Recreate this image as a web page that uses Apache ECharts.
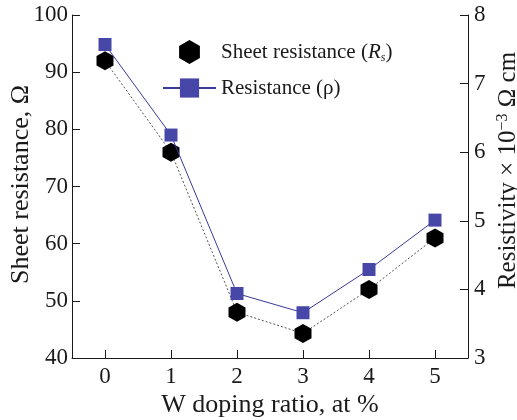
<!DOCTYPE html>
<html>
<head>
<meta charset="utf-8">
<script src="https://cdn.jsdelivr.net/npm/echarts@6/dist/echarts.min.js"></script>
<style>
  html, body { margin: 0; padding: 0; background: #fff; }
  #chart { width: 517px; height: 420px; }
</style>
</head>
<body>
<div id="chart"></div>
<script>
// W doping ratio (at %)
const dopingRatios = ['0', '1', '2', '3', '4', '5'];
// Sheet resistance Rs, Ω (left axis)
const sheetResistance = [92, 76, 48, 44.3, 52, 61];
// Resistivity ρ, ×10^-3 Ω cm (right axis)
const resistivity = [7.57, 6.25, 3.94, 3.66, 4.29, 5.01];
// Axis tick ranges
const leftTicks = { min: 40, max: 100, step: 10 };
const rightTicks = { min: 3, max: 8, step: 1 };

const FONT = '"Liberation Serif", "DejaVu Serif", serif';
const HEX = 'path://M0,-1 L0.866,-0.5 L0.866,0.5 L0,1 L-0.866,0.5 L-0.866,-0.5 Z';
const BLUE = '#4747a8';
const INK = '#1a1a1a';

const chart = echarts.init(document.getElementById('chart'), null, { renderer: 'canvas' });

const axisCommon = {
  axisLine: { show: true, lineStyle: { color: INK, width: 1 } },
  axisTick: { show: true, inside: true, length: 8, lineStyle: { color: INK } },
  splitLine: { show: false },
  nameMoveOverlap: false
};

chart.setOption({
  animation: false,
  backgroundColor: '#fff',
  grid: { left: 72, right: 49, top: 15, bottom: 62, containLabel: false, outerBoundsMode: 'none' },
  legend: {
    orient: 'vertical',
    left: 157,
    top: 35,
    padding: 5,
    itemWidth: 53,
    itemHeight: 24,
    itemGap: 12,
    textStyle: {
      fontFamily: FONT, fontSize: 21, color: INK, lineHeight: 24,
      rich: {
        a: { fontFamily: FONT, fontSize: 21, color: INK, lineHeight: 24 },
        i: { fontFamily: FONT, fontSize: 21, fontStyle: 'italic', color: INK, lineHeight: 24 },
        sub: { fontFamily: FONT, fontSize: 12, fontStyle: 'italic', color: INK, lineHeight: 24, verticalAlign: 'bottom', padding: [8, 0, 0, 0] }
      }
    },
    formatter: function (name) {
      if (name === 'Sheet resistance') return '{a|Sheet resistance (}{i|R}{sub|s}{a|)}';
      return '{a|Resistance (ρ)}';
    },
    data: [
      { name: 'Sheet resistance', icon: HEX },
      { name: 'Resistance' }
    ]
  },
  xAxis: Object.assign({}, axisCommon, {
    type: 'category',
    data: dopingRatios,
    boundaryGap: true,
    axisTick: { show: true, inside: true, length: 8, alignWithLabel: true, lineStyle: { color: INK } },
    axisLabel: { fontFamily: FONT, fontSize: 23, color: INK, margin: 7 },
    name: 'W doping ratio, at %',
    nameLocation: 'middle',
    nameGap: 34,
    nameTextStyle: { fontFamily: FONT, fontSize: 26, color: INK }
  }),
  yAxis: [
    Object.assign({}, axisCommon, {
      type: 'value',
      position: 'left',
      min: leftTicks.min, max: leftTicks.max, interval: leftTicks.step,
      axisLabel: { fontFamily: FONT, fontSize: 23, color: INK, margin: 4 },
      name: 'Sheet resistance, Ω',
      nameLocation: 'middle',
      nameRotate: 90,
      nameGap: 38,
      nameTextStyle: { fontFamily: FONT, fontSize: 26, color: INK, padding: [0, 0, 0, 4] }
    }),
    Object.assign({}, axisCommon, {
      type: 'value',
      position: 'right',
      min: rightTicks.min, max: rightTicks.max, interval: rightTicks.step,
      axisLabel: { fontFamily: FONT, fontSize: 23, color: INK, margin: 6 },
      name: '{a|Resistivity × 10}{sup|−3}{a| Ω cm}',
      nameLocation: 'middle',
      nameRotate: 90,
      nameGap: 27,
      nameTextStyle: {
        fontFamily: FONT, fontSize: 25, color: INK, padding: [0, 0, 0, 32],
        rich: {
          a: { fontFamily: FONT, fontSize: 25, color: INK },
          sup: { fontFamily: FONT, fontSize: 16, color: INK, verticalAlign: 'top', padding: [0, 0, 10, 0] }
        }
      }
    })
  ],
  series: [
    {
      name: 'Sheet resistance',
      type: 'line',
      yAxisIndex: 0,
      data: sheetResistance,
      symbol: HEX,
      symbolSize: [17, 19],
      itemStyle: { color: '#000' },
      lineStyle: { color: '#555', width: 1, type: [2, 2] },
      z: 2
    },
    {
      name: 'Resistance',
      type: 'line',
      yAxisIndex: 1,
      data: resistivity,
      symbol: 'rect',
      symbolSize: 13,
      itemStyle: { color: BLUE },
      lineStyle: { color: '#3a3a9a', width: 1 },
      z: 3
    }
  ]
});
</script>
</body>
</html>
